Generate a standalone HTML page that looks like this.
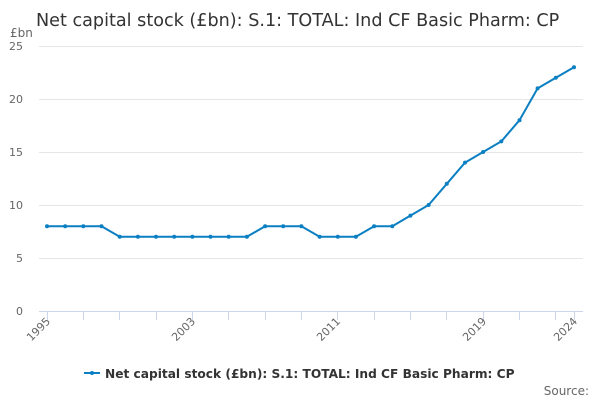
<!DOCTYPE html>
<html><head><meta charset="utf-8"><style>
body{margin:0;background:#fff;}
svg{display:block;font-family:"DejaVu Sans","Liberation Sans",sans-serif;}
</style></head><body>
<svg width="600" height="400" viewBox="0 0 600 400" xmlns="http://www.w3.org/2000/svg">
<text x="36" y="26" font-size="17.6" fill="#333">Net capital stock (£bn): S.1: TOTAL: Ind CF Basic Pharm: CP</text>
<text x="10" y="37" font-size="12" fill="#666">£bn</text>
<g stroke="#e6e6e6" stroke-width="1">
<line x1="39" x2="583" y1="46.5" y2="46.5"/>
<line x1="39" x2="583" y1="99.5" y2="99.5"/>
<line x1="39" x2="583" y1="152.5" y2="152.5"/>
<line x1="39" x2="583" y1="205.5" y2="205.5"/>
<line x1="39" x2="583" y1="258.5" y2="258.5"/>
</g>
<g font-size="11" fill="#666" text-anchor="end">
<text x="23" y="50">25</text><text x="23" y="103">20</text><text x="23" y="156">15</text>
<text x="23" y="209">10</text><text x="23" y="262">5</text><text x="23" y="315">0</text>
</g>
<line x1="39" x2="583" y1="311.5" y2="311.5" stroke="#ccd6eb"/>
<g stroke="#ccd6eb">
<line x1="47.5" x2="47.5" y1="311" y2="320"/>
<line x1="83.5" x2="83.5" y1="311" y2="320"/>
<line x1="119.5" x2="119.5" y1="311" y2="320"/>
<line x1="156.5" x2="156.5" y1="311" y2="320"/>
<line x1="192.5" x2="192.5" y1="311" y2="320"/>
<line x1="228.5" x2="228.5" y1="311" y2="320"/>
<line x1="265.5" x2="265.5" y1="311" y2="320"/>
<line x1="301.5" x2="301.5" y1="311" y2="320"/>
<line x1="337.5" x2="337.5" y1="311" y2="320"/>
<line x1="374.5" x2="374.5" y1="311" y2="320"/>
<line x1="410.5" x2="410.5" y1="311" y2="320"/>
<line x1="446.5" x2="446.5" y1="311" y2="320"/>
<line x1="483.5" x2="483.5" y1="311" y2="320"/>
<line x1="519.5" x2="519.5" y1="311" y2="320"/>
<line x1="555.5" x2="555.5" y1="311" y2="320"/>
<line x1="574.5" x2="574.5" y1="311" y2="320"/>
</g>
<g font-size="11" fill="#666" text-anchor="end">
<text transform="translate(51,322) rotate(-45)">1995</text>
<text transform="translate(196,322) rotate(-45)">2003</text>
<text transform="translate(341,322) rotate(-45)">2011</text>
<text transform="translate(487,322) rotate(-45)">2019</text>
<text transform="translate(578,322) rotate(-45)">2024</text>
</g>
<polyline fill="none" stroke="#0a7fc2" stroke-width="2" points="47,226.2 65.2,226.2 83.3,226.2 101.5,226.2 119.7,236.8 137.9,236.8 156,236.8 174.2,236.8 192.4,236.8 210.5,236.8 228.7,236.8 246.9,236.8 265.1,226.2 283.2,226.2 301.4,226.2 319.6,236.8 337.8,236.8 355.9,236.8 374.1,226.2 392.3,226.2 410.4,215.6 428.6,205 446.8,183.8 465,162.6 483.1,152 501.3,141.4 519.5,120.2 537.6,88.4 555.8,77.8 574,67.2"/>
<g fill="#0a7fc2">
<circle cx="47" cy="226.2" r="2"/><circle cx="65.2" cy="226.2" r="2"/><circle cx="83.3" cy="226.2" r="2"/><circle cx="101.5" cy="226.2" r="2"/>
<circle cx="119.7" cy="236.8" r="2"/><circle cx="137.9" cy="236.8" r="2"/><circle cx="156" cy="236.8" r="2"/><circle cx="174.2" cy="236.8" r="2"/>
<circle cx="192.4" cy="236.8" r="2"/><circle cx="210.5" cy="236.8" r="2"/><circle cx="228.7" cy="236.8" r="2"/><circle cx="246.9" cy="236.8" r="2"/>
<circle cx="265.1" cy="226.2" r="2"/><circle cx="283.2" cy="226.2" r="2"/><circle cx="301.4" cy="226.2" r="2"/>
<circle cx="319.6" cy="236.8" r="2"/><circle cx="337.8" cy="236.8" r="2"/><circle cx="355.9" cy="236.8" r="2"/>
<circle cx="374.1" cy="226.2" r="2"/><circle cx="392.3" cy="226.2" r="2"/><circle cx="410.4" cy="215.6" r="2"/>
<circle cx="428.6" cy="205" r="2"/><circle cx="446.8" cy="183.8" r="2"/><circle cx="465" cy="162.6" r="2"/>
<circle cx="483.1" cy="152" r="2"/><circle cx="501.3" cy="141.4" r="2"/><circle cx="519.5" cy="120.2" r="2"/>
<circle cx="537.6" cy="88.4" r="2"/><circle cx="555.8" cy="77.8" r="2"/><circle cx="574" cy="67.2" r="2"/>
</g>
<line x1="84" x2="100" y1="373" y2="373" stroke="#0a7fc2" stroke-width="2"/>
<circle cx="92" cy="373" r="2" fill="#0a7fc2"/>
<text x="105" y="378" font-size="12.2" font-weight="bold" fill="#333">Net capital stock (£bn): S.1: TOTAL: Ind CF Basic Pharm: CP</text>
<text x="589" y="395" font-size="12" fill="#666" text-anchor="end">Source:</text>
</svg>
</body></html>
